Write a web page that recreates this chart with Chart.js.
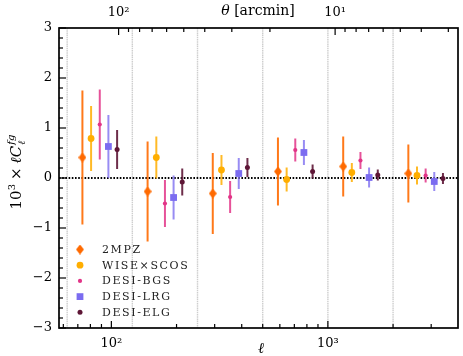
<!DOCTYPE html>
<html><head><meta charset="utf-8">
<script src="https://cdn.jsdelivr.net/npm/chart.js@4/dist/chart.umd.min.js"></script>
<style>html,body{margin:0;padding:0;background:#fff}#wrap{width:463px;height:356px;position:relative}</style>
</head><body><div id="wrap"><canvas id="c"></canvas></div>
<script>
// ---- data ----
const seriesNames = ['2MPZ', 'WISE\u00d7SCOS', 'DESI-BGS', 'DESI-LRG', 'DESI-ELG'];
const ell2MPZ = [73.5, 147, 294, 588, 1177, 2353];
const val2MPZ = [0.41, -0.27, -0.31, 0.13, 0.23, 0.09];
const err2MPZ = [1.34, 1.00, 0.81, 0.68, 0.60, 0.58];
const ellWISE = [80.6, 161.3, 322.5, 645, 1290, 2580];
const valWISE = [0.79, 0.41, 0.16, -0.03, 0.11, 0.05];
const errWISE = [0.65, 0.42, 0.30, 0.24, 0.19, 0.18];
const ellBGS = [88.4, 176.8, 353.6, 707, 1414, 2828];
const valBGS = [1.07, -0.51, -0.38, 0.56, 0.35, 0.05];
const errBGS = [0.70, 0.47, 0.32, 0.23, 0.17, 0.14];
const ellLRG = [96.9, 193.8, 387.6, 775, 1550, 3100];
const valLRG = [0.63, -0.39, 0.09, 0.51, 0.01, -0.07];
const errLRG = [0.63, 0.44, 0.31, 0.25, 0.20, 0.19];
const ellELG = [106.3, 212.5, 425, 850, 1700, 3400];
const valELG = [0.57, -0.08, 0.21, 0.13, 0.06, -0.01];
const errELG = [0.39, 0.27, 0.19, 0.14, 0.11, 0.11];
const binEdges = [62.5, 125, 250, 500, 1000, 2000];
const yTicks = [-3, -2, -1, 0, 1, 2, 3];
const yTickLabels = ['\u22123', '\u22122', '\u22121', '0', '1', '2', '3'];
const ellMajor = [100, 1000];
const ellMajorLabels = ['10\u00b2', '10\u00b3'];
const ellMinor = [60, 70, 80, 90, 200, 300, 400, 500, 600, 700, 800, 900, 2000, 3000];
const thetaMajor = [100, 10];
const thetaMajorLabels = ['10\u00b2', '10\u00b9'];
const thetaMinor = [90, 80, 70, 60, 50, 40, 30, 20, 9, 8, 7, 6, 5, 4, 3];
const ellMin = 57.3, ellMax = 3990;
const ARCMIN = 10800; // theta[arcmin] = 10800 / ell

const colors = ['#ff6a00', '#ffae00', '#e23487', '#7b6cf0', '#5e1636'];
const barColors = ['rgba(255,106,0,0.9)', 'rgba(255,174,0,0.85)', 'rgba(226,52,135,0.85)', 'rgba(123,108,240,0.78)', 'rgba(94,22,54,0.9)'];

function diamondImg(w, h, color) {
  const c = document.createElement('canvas'); c.width = w; c.height = h;
  const g = c.getContext('2d'); g.fillStyle = color;
  g.beginPath(); g.moveTo(w / 2, 0); g.lineTo(w, h / 2); g.lineTo(w / 2, h); g.lineTo(0, h / 2); g.closePath(); g.fill();
  return c;
}
const diamond = diamondImg(8, 10, colors[0]);

const seriesEll = [ell2MPZ, ellWISE, ellBGS, ellLRG, ellELG];
const seriesVal = [val2MPZ, valWISE, valBGS, valLRG, valELG];
const seriesErr = [err2MPZ, errWISE, errBGS, errLRG, errELG];
const styles = [
  { pointStyle: diamond, pointRadius: 5 },
  { pointStyle: 'circle', pointRadius: 3.4 },
  { pointStyle: 'circle', pointRadius: 2.1 },
  { pointStyle: 'rect', pointRadius: 4.8 },
  { pointStyle: 'circle', pointRadius: 2.5 }
];

const datasets = seriesNames.map((name, k) => ({
  label: name,
  data: seriesEll[k].map((x, i) => ({ x: x, y: seriesVal[k][i] })),
  errors: seriesErr[k],
  errColor: barColors[k],
  backgroundColor: colors[k],
  borderColor: colors[k],
  borderWidth: 0,
  pointStyle: styles[k].pointStyle,
  pointRadius: styles[k].pointRadius,
  pointHoverRadius: styles[k].pointRadius,
  showLine: false
}));

const SERIF = 'DejaVu Serif';
Chart.defaults.font.family = SERIF;
Chart.defaults.color = '#000';

const decor = {
  id: 'decor',
  beforeDatasetsDraw(chart) {
    const { ctx, chartArea: a, scales } = chart;
    const xs = scales.x, ys = scales.y;
    ctx.save();
    ctx.beginPath(); ctx.rect(a.left, a.top, a.right - a.left, a.bottom - a.top); ctx.clip();
    // bin edges
    ctx.strokeStyle = 'rgba(165,165,165,0.55)'; ctx.lineWidth = 1.4; ctx.setLineDash([1.5, 0.7]);
    binEdges.forEach(e => {
      const x = xs.getPixelForValue(e);
      ctx.beginPath(); ctx.moveTo(x, a.top); ctx.lineTo(x, a.bottom); ctx.stroke();
    });
    // zero line
    ctx.strokeStyle = '#000'; ctx.lineWidth = 1.8; ctx.setLineDash([1.6, 1.6]);
    const y0 = ys.getPixelForValue(0);
    ctx.beginPath(); ctx.moveTo(a.left, y0); ctx.lineTo(a.right, y0); ctx.stroke();
    ctx.setLineDash([]);
    // error bars
    chart.data.datasets.forEach(ds => {
      ctx.strokeStyle = ds.errColor; ctx.lineWidth = 2;
      ds.data.forEach((p, i) => {
        const x = xs.getPixelForValue(p.x);
        ctx.beginPath();
        ctx.moveTo(x, ys.getPixelForValue(p.y + ds.errors[i]));
        ctx.lineTo(x, ys.getPixelForValue(p.y - ds.errors[i]));
        ctx.stroke();
      });
    });
    ctx.restore();
  },
  afterDraw(chart) {
    const { ctx, chartArea: a, scales } = chart;
    const xs = scales.x, ys = scales.y, xt = scales.xTop;
    ctx.save();
    ctx.strokeStyle = '#000'; ctx.lineWidth = 1.2;
    const tick = (x1, y1, x2, y2) => { ctx.beginPath(); ctx.moveTo(x1, y1); ctx.lineTo(x2, y2); ctx.stroke(); };
    // left ticks
    for (let v = -3; v <= 3.0001; v += 0.2) {
      const y = ys.getPixelForValue(v);
      const major = Math.abs(v - Math.round(v)) < 1e-6;
      tick(a.left, y, a.left + (major ? 7 : 4), y);
    }
    // bottom ticks
    ellMajor.forEach(v => { const x = xs.getPixelForValue(v); tick(x, a.bottom, x, a.bottom - 7); });
    ellMinor.forEach(v => { const x = xs.getPixelForValue(v); tick(x, a.bottom, x, a.bottom - 4); });
    // top ticks
    thetaMajor.forEach(v => { const x = xt.getPixelForValue(v); tick(x, a.top, x, a.top + 7); });
    thetaMinor.forEach(v => { const x = xt.getPixelForValue(v); tick(x, a.top, x, a.top + 4); });
    // frame
    ctx.lineWidth = 1.7;
    ctx.strokeRect(a.left, a.top, a.right - a.left, a.bottom - a.top);

    // legend
    const lx = a.left + 21, ly0 = 249.5, dy = 15.7;
    chart.data.datasets.forEach((ds, k) => {
      const y = ly0 + k * dy;
      ctx.fillStyle = colors[k];
      const st = styles[k];
      if (st.pointStyle === diamond) {
        ctx.drawImage(diamond, lx - 4, y - 5);
      } else if (st.pointStyle === 'rect') {
        const s = st.pointRadius * Math.SQRT1_2;
        ctx.fillRect(lx - s, y - s, 2 * s, 2 * s);
      } else {
        ctx.beginPath(); ctx.arc(lx, y, st.pointRadius, 0, Math.PI * 2); ctx.fill();
      }
      ctx.fillStyle = '#222';
      ctx.font = '11px ' + SERIF;
      ctx.textBaseline = 'middle'; ctx.textAlign = 'left';
      try { ctx.letterSpacing = '1.6px'; } catch (e) {}
      ctx.fillText(ds.label, a.left + 43, y + 0.5);
      try { ctx.letterSpacing = '0px'; } catch (e) {}
    });

    // axis titles
    ctx.fillStyle = '#000';
    ctx.textBaseline = 'alphabetic';
    // bottom: ell
    ctx.font = 'italic 15px ' + SERIF; ctx.textAlign = 'center';
    ctx.fillText('\u2113', 261, 353);
    // top: theta [arcmin]
    ctx.textAlign = 'left';
    ctx.font = 'italic 14px ' + SERIF;
    const wT = ctx.measureText('\u03b8').width;
    ctx.font = '14px ' + SERIF;
    const wR = ctx.measureText(' [arcmin]').width;
    let tx = 258 - (wT + wR) / 2;
    ctx.font = 'italic 14px ' + SERIF; ctx.fillText('\u03b8', tx, 15);
    ctx.font = '14px ' + SERIF; ctx.fillText(' [arcmin]', tx + wT, 15);
    // left: 10^3 x ell C_ell^{fg}
    ctx.translate(16, 172); ctx.rotate(-Math.PI / 2);
    const parts = [
      { t: '10', f: '15px ' + SERIF, dy: 0 },
      { t: '3', f: '10px ' + SERIF, dy: -6.5 },
      { gap: 4 },
      { t: '\u00d7', f: '15px ' + SERIF, dy: 0 },
      { gap: 4 },
      { t: '\u2113', f: 'italic 15px ' + SERIF, dy: 0 },
      { t: 'C', f: 'italic 15px ' + SERIF, dy: 0 },
      { stack: [{ t: 'fg', f: 'italic 10px ' + SERIF, dy: -7 }, { t: '\u2113', f: 'italic 10px ' + SERIF, dy: 3.5 }] }
    ];
    let total = 0;
    const widths = parts.map(p => {
      let w;
      if (p.gap) w = p.gap;
      else if (p.stack) w = Math.max(...p.stack.map(s => { ctx.font = s.f; return ctx.measureText(s.t).width; })) + 1;
      else { ctx.font = p.f; w = ctx.measureText(p.t).width; }
      total += w; return w;
    });
    let cx = -total / 2; const base = 5;
    parts.forEach((p, i) => {
      if (p.stack) p.stack.forEach(s => { ctx.font = s.f; ctx.fillText(s.t, cx + 1, base + s.dy); });
      else if (!p.gap) { ctx.font = p.f; ctx.fillText(p.t, cx, base + p.dy); }
      cx += widths[i];
    });
    ctx.restore();
  }
};

const tickFont = { family: SERIF, size: 13 };
new Chart(document.getElementById('c'), {
  type: 'scatter',
  data: { datasets: datasets },
  options: {
    responsive: true, maintainAspectRatio: false, animation: false,
    devicePixelRatio: 1,
    layout: { padding: { left: 0, right: 3, top: 0, bottom: 0 } },
    plugins: { legend: { display: false }, tooltip: { enabled: false } },
    scales: {
      x: {
        type: 'logarithmic', position: 'bottom', min: ellMin, max: ellMax, bounds: 'data',
        grid: { display: false, drawTicks: false }, border: { display: false },
        ticks: { font: tickFont, color: '#000', padding: 8, maxRotation: 0, autoSkip: false,
          callback: (v) => { const i = ellMajor.indexOf(v); return i >= 0 ? ellMajorLabels[i] : ''; } },
        afterBuildTicks: s => { s.ticks = ellMajor.map(v => ({ value: v })); },
        afterFit: s => { s.height = 28; }
      },
      xTop: {
        type: 'logarithmic', position: 'top', reverse: true, bounds: 'data',
        min: ARCMIN / ellMax, max: ARCMIN / ellMin,
        grid: { display: false, drawTicks: false }, border: { display: false },
        ticks: { font: tickFont, color: '#000', padding: 8, maxRotation: 0, autoSkip: false,
          callback: (v) => { const i = thetaMajor.indexOf(v); return i >= 0 ? thetaMajorLabels[i] : ''; } },
        afterBuildTicks: s => { s.ticks = thetaMajor.map(v => ({ value: v })); },
        afterFit: s => { s.height = 28; }
      },
      y: {
        type: 'linear', position: 'left', min: -3, max: 3,
        grid: { display: false, drawTicks: false }, border: { display: false },
        ticks: { font: tickFont, color: '#000', padding: 7,
          callback: (v) => { const i = yTicks.indexOf(v); return i >= 0 ? yTickLabels[i] : ''; } },
        afterBuildTicks: s => { s.ticks = yTicks.map(v => ({ value: v })); },
        afterFit: s => { s.width = 59; }
      }
    }
  },
  plugins: [decor]
});
</script>
</body></html>
